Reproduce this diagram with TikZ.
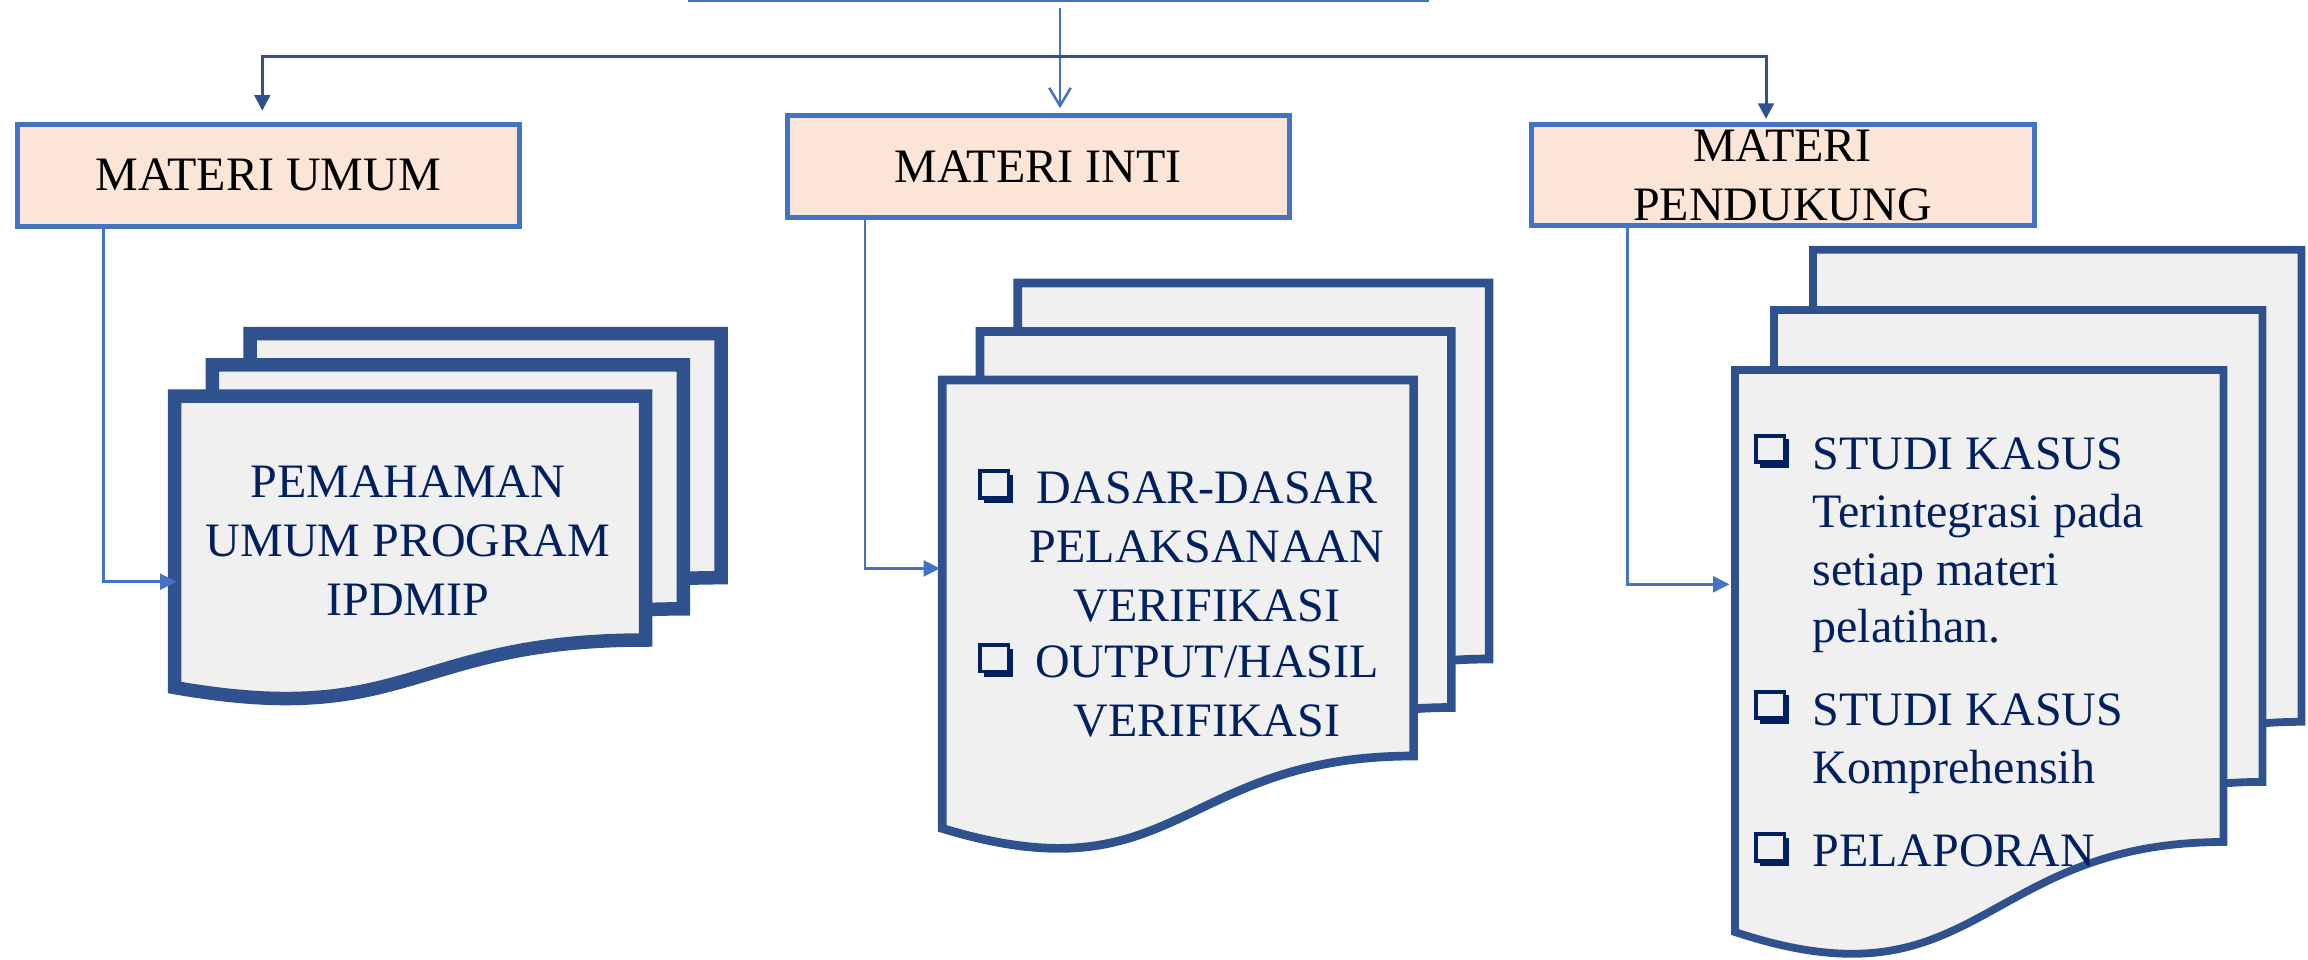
\documentclass[tikz,border=0pt]{standalone}
\usepackage{fontspec}
\setmainfont{Liberation Serif}
\usetikzlibrary{arrows.meta,calc}

\definecolor{hfill}{HTML}{FBE5D6}
\definecolor{hline}{HTML}{4472C4}
\definecolor{dkblue}{HTML}{2F528F}
\definecolor{pagefill}{HTML}{F0F0F0}
\definecolor{navy}{HTML}{002060}

% one page of a document stack: left, top, width, right drop, left drop, wave depth, line width
\newcommand\docpage[7]{%
  \filldraw[fill=pagefill, draw=dkblue, line join=miter, line width=#7]
    (#1,#2) -- ({#1+#3},#2) -- ({#1+#3},{#2+#4})
    .. controls ({#1+#3/2},{#2+#4}) and ({#1+#3/2},{#2+#6}) .. (#1,{#2+#5}) -- cycle;}

% three stacked pages, each one shifted up and right by (#8,#9)
\newcommand\docstack[9]{%
  \docpage{#1+2*#8}{#2-2*#9}{#3}{#4}{#5}{#6}{#7}%
  \docpage{#1+#8}{#2-#9}{#3}{#4}{#5}{#6}{#7}%
  \docpage{#1}{#2}{#3}{#4}{#5}{#6}{#7}}

% shadowed check-box bullet, given its top left corner
\newcommand\chkbullet[2]{%
  \fill[navy] ({#1+5.7},{#2+5.7}) rectangle ({#1+35},{#2+34});
  \fill[navy] (#1,#2) rectangle ({#1+31.2},{#2+30.2});
  \fill[pagefill] ({#1+3.7},{#2+4}) rectangle ({#1+28.2},{#2+26.7});}

\tikzset{
  hbox/.style={draw=hline, fill=hfill, line width=5, inner sep=0,
    font=\fontsize{48}{59}\selectfont, align=center},
  doctext/.style={text=navy, inner sep=0},
  ltline/.style={draw=hline, line width=2.5},
  dkline/.style={draw=dkblue, line width=3},
}

\begin{document}
\begin{tikzpicture}[x=1pt,y=-1pt]
\useasboundingbox (0,0) rectangle (2308,959);

% heading boxes
\node[hbox, minimum width=736, minimum height=300] (top) at (1058.8,-150.5) {};
\node[hbox, minimum width=502.5, minimum height=102.5] (umum) at (268.25,175.25) {MATERI UMUM};
\node[hbox, minimum width=502.5, minimum height=101.7] (inti) at (1038.25,166.65) {MATERI INTI};
\node[hbox, minimum width=503, minimum height=101.3] (pend) at (1782.5,175.15) {MATERI\\PENDUKUNG};

% document stacks
\docstack{174.5}{396}{471}{244}{291.5}{333}{13.5}{37.75}{31.15}
\docstack{942.3}{380}{471.3}{376}{448.4}{520}{8.7}{37.75}{48.5}
\docstack{1735}{370}{488.5}{472}{562}{643}{7.8}{39}{60.1}

% connectors from the top box
\coordinate (mid) at (1060,0);
\coordinate (jl) at (262.3,56);
\coordinate (jr) at (1766,56);
\draw[ltline, -{Straight Barb[length=18,width=21.4]}, shorten <=6, shorten >=5]
  (top.south -| mid) -- (inti.north -| mid);
\draw[dkline, {Triangle[length=15.7,width=15.7]}-{Triangle[length=15.7,width=15.7]},
  shorten <=10.8, shorten >=3]
  (jl |- umum.north) -- (jl) -- (jr) -- (jr |- pend.north);

% connectors from the headings into the documents
\coordinate (c1) at (103.3,0);
\coordinate (e1) at (176.5,581.7);
\coordinate (c2) at (865,0);
\coordinate (e2) at (940,568.4);
\coordinate (c3) at (1627.5,0);
\coordinate (e3) at (1729.5,584.3);
\draw[ltline, -{Triangle[length=16.5,width=16]}] (umum.south -| c1) |- (e1);
\draw[ltline, -{Triangle[length=16.5,width=16]}] (inti.south -| c2) |- (e2);
\draw[ltline, -{Triangle[length=16.5,width=16]}] (pend.south -| c3) |- (e3);

% document texts
\node[doctext, anchor=base] (t1) at (408,497.7)
  {\parbox[t]{460pt}{\fontsize{48}{58.7}\selectfont\centering
   PEMAHAMAN\\UMUM PROGRAM\\IPDMIP}};

\chkbullet{978.3}{469.3}
\chkbullet{978.3}{643}
\node[doctext, anchor=base] (t2a) at (1207,503.2)
  {\parbox[t]{400pt}{\fontsize{48}{59.3}\selectfont\centering
   DASAR-DASAR\\PELAKSANAAN\\VERIFIKASI}};
\node[doctext, anchor=base] (t2b) at (1207,677.2)
  {\parbox[t]{400pt}{\fontsize{48}{59.3}\selectfont\centering
   OUTPUT/HASIL\\VERIFIKASI}};

\chkbullet{1754.3}{433.5}
\chkbullet{1754.3}{689.5}
\chkbullet{1754.3}{832.3}
\node[doctext, anchor=base west] (t3a) at (1812.4,469.4)
  {\parbox[t]{440pt}{\fontsize{48}{57.8}\selectfont\raggedright
   STUDI KASUS\\Terintegrasi pada\\setiap materi\\pelatihan.}};
\node[doctext, anchor=base west] (t3b) at (1812.4,725.1)
  {\parbox[t]{440pt}{\fontsize{48}{58.1}\selectfont\raggedright
   STUDI KASUS\\Komprehensih}};
\node[doctext, anchor=base west] (t3c) at (1812.4,866)
  {\parbox[t]{440pt}{\fontsize{48}{58}\selectfont\raggedright
   PELAPORAN}};
\end{tikzpicture}
\end{document}
